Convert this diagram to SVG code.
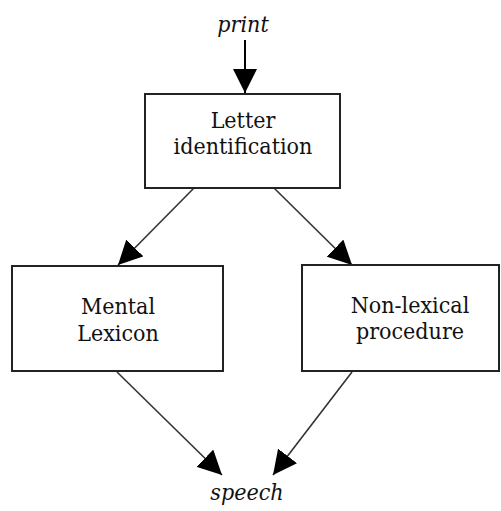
<svg xmlns="http://www.w3.org/2000/svg" width="501" height="511" viewBox="0 0 501 511">
<style>
.box{fill:#fff;stroke:#222;stroke-width:2}
.t{font-family:'DejaVu Serif Condensed','DejaVu Serif',serif;font-stretch:condensed;font-size:23px;fill:#111;text-anchor:middle}
.i{font-style:italic}
.c{stroke:#333;stroke-width:1.6;fill:none}
</style>
<defs>
<marker id="ah" markerUnits="userSpaceOnUse" markerWidth="24" markerHeight="24" refX="22" refY="11" orient="auto" viewBox="0 0 22 22">
<path d="M0,0 L22,11 L0,22 z" fill="#000"/>
</marker>
</defs>
<g id="connectors">
<line class="c" x1="245" y1="40" x2="245" y2="93" marker-end="url(#ah)" style="stroke:#000;stroke-width:2"/>
<line class="c" x1="194" y1="188" x2="118" y2="265" marker-end="url(#ah)"/>
<line class="c" x1="274" y1="188" x2="352" y2="265" marker-end="url(#ah)"/>
<line class="c" x1="117" y1="372" x2="222" y2="475" marker-end="url(#ah)"/>
<line class="c" x1="352" y1="372" x2="273" y2="475" marker-end="url(#ah)"/>
</g>
<g id="print"><text class="t i" x="243" y="32">print</text></g>
<g id="letter">
<rect class="box" x="145" y="94" width="195" height="94"/>
<text class="t" x="243" y="128">Letter</text>
<text class="t" x="243" y="154">identification</text>
</g>
<g id="mental">
<rect class="box" x="12" y="266" width="211" height="105"/>
<text class="t" x="118" y="314">Mental</text>
<text class="t" x="118" y="341">Lexicon</text>
</g>
<g id="nonlexical">
<rect class="box" x="302" y="265" width="197" height="106"/>
<text class="t" x="410" y="313">Non-lexical</text>
<text class="t" x="410" y="339">procedure</text>
</g>
<g id="speech"><text class="t i" x="247" y="500">speech</text></g>
</svg>
